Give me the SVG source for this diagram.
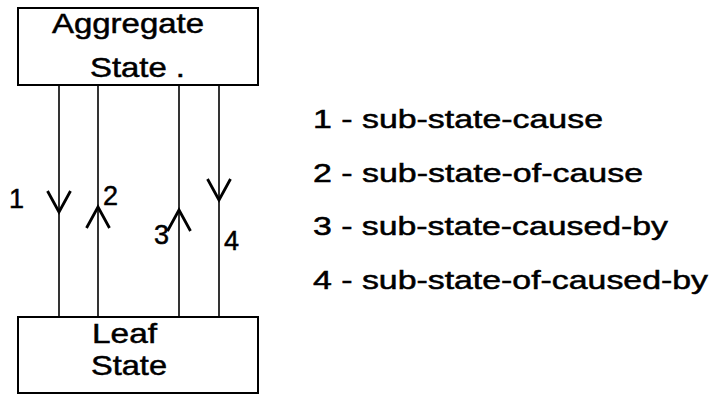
<svg xmlns="http://www.w3.org/2000/svg" width="725" height="395" viewBox="0 0 725 395">
<style>
.box{fill:#fff;stroke:#000;stroke-width:2}
.t{font-family:"Liberation Sans",Arial,Helvetica,sans-serif;fill:#000;stroke:#000;stroke-width:0.5}
.lbl{font-size:27px}
.leg{font-size:25.5px}
.node{font-size:28px}
.conn{fill:none;stroke:#000;stroke-width:1.6;marker-mid:url(#chev)}
</style>
<defs>
<marker id="chev" markerUnits="userSpaceOnUse" viewBox="-25 -15 30 30" refX="0" refY="0" markerWidth="30" markerHeight="30" orient="auto" overflow="visible">
<path d="M-21,-11.5 L0,0 L-21,11.5" fill="none" stroke="#000" stroke-width="2.8"/>
</marker>
</defs>
<g id="connectors">
<path class="conn" d="M59 86 L59 212 L59 317"/>
<path class="conn" d="M98 317 L98 207 L98 86"/>
<path class="conn" d="M179 317 L179 210 L179 86"/>
<path class="conn" d="M219 86 L219 200 L219 317"/>
</g>
<g id="aggregate">
<rect class="box" x="18" y="8" width="240" height="77"/>
<text class="t node" x="52" y="33" textLength="152" lengthAdjust="spacingAndGlyphs">Aggregate</text>
<text class="t node" x="90" y="77" textLength="95" lengthAdjust="spacingAndGlyphs">State .</text>
</g>
<g id="leaf">
<rect class="box" x="18" y="317" width="240" height="76"/>
<text class="t node" x="92" y="343" textLength="65" lengthAdjust="spacingAndGlyphs">Leaf</text>
<text class="t node" x="91" y="375" textLength="76" lengthAdjust="spacingAndGlyphs">State</text>
</g>
<g id="labels">
<text class="t lbl" x="9" y="208">1</text>
<text class="t lbl" x="103" y="205">2</text>
<text class="t lbl" x="154" y="244">3</text>
<text class="t lbl" x="224" y="250">4</text>
</g>
<g id="legend">
<text class="t leg" x="313" y="128" textLength="290" lengthAdjust="spacingAndGlyphs">1 - sub-state-cause</text>
<text class="t leg" x="313" y="182" textLength="330" lengthAdjust="spacingAndGlyphs">2 - sub-state-of-cause</text>
<text class="t leg" x="313" y="235" textLength="355" lengthAdjust="spacingAndGlyphs">3 - sub-state-caused-by</text>
<text class="t leg" x="313" y="289" textLength="395" lengthAdjust="spacingAndGlyphs">4 - sub-state-of-caused-by</text>
</g>
</svg>
